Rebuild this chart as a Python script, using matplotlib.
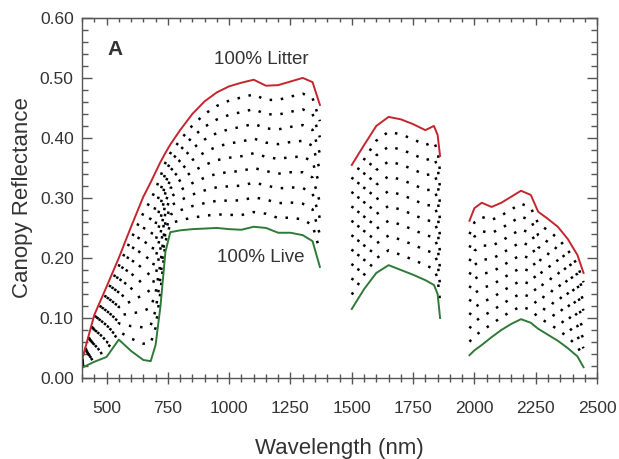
import numpy as np
import matplotlib
matplotlib.use("Agg")
import matplotlib.pyplot as plt
from matplotlib.ticker import MultipleLocator, FormatStrFormatter

plt.rcParams['font.family'] = ['Liberation Sans', 'DejaVu Sans']

# segment 1 (visible / NIR)
wl_1 = [400, 450, 500, 550, 600, 650, 680, 700, 720, 740, 760, 800, 850, 900,
        950, 1000, 1050, 1100, 1150, 1200, 1250, 1300, 1340, 1370]
litter_1 = [0.030, 0.105, 0.152, 0.200, 0.252, 0.302, 0.326, 0.343, 0.360, 0.375,
            0.389, 0.413, 0.440, 0.461, 0.476, 0.486, 0.492, 0.497, 0.487, 0.488,
            0.494, 0.500, 0.493, 0.455]
live_1 = [0.017, 0.027, 0.035, 0.064, 0.045, 0.030, 0.028, 0.055, 0.120, 0.210,
          0.243, 0.246, 0.248, 0.249, 0.250, 0.248, 0.247, 0.252, 0.250, 0.242,
          0.242, 0.238, 0.228, 0.185]

# segment 2 (SWIR 1)
wl_2 = [1500, 1550, 1600, 1650, 1700, 1750, 1800, 1835, 1850, 1860]
litter_2 = [0.355, 0.388, 0.420, 0.435, 0.431, 0.423, 0.413, 0.420, 0.405, 0.370]
live_2 = [0.115, 0.148, 0.175, 0.188, 0.180, 0.172, 0.163, 0.155, 0.140, 0.100]

# segment 3 (SWIR 2)
wl_3 = [1980, 2000, 2030, 2070, 2110, 2150, 2190, 2230, 2260, 2300, 2340, 2380,
        2420, 2445]
litter_3 = [0.262, 0.283, 0.292, 0.285, 0.292, 0.302, 0.312, 0.305, 0.277, 0.265,
            0.252, 0.232, 0.205, 0.175]
live_3 = [0.038, 0.046, 0.055, 0.068, 0.080, 0.090, 0.098, 0.092, 0.082, 0.072,
          0.062, 0.050, 0.036, 0.018]

# litter fractions of the intermediate mixtures
mix_fractions = [0.1, 0.2, 0.3, 0.4, 0.5, 0.6, 0.7, 0.8, 0.9]

red = '#c3262e'
green = '#2f7a38'
txt = '#333333'
axc = '#555555'

fig = plt.figure(figsize=(6.19, 4.59), dpi=100)
ax = fig.add_axes([0.1325, 0.1765, 0.832, 0.7845])

segments = [(wl_1, litter_1, live_1), (wl_2, litter_2, live_2), (wl_3, litter_3, live_3)]
for wl, lit, liv in segments:
    wl = np.array(wl)
    lit = np.array(lit)
    liv = np.array(liv)
    for f in mix_fractions:
        ax.plot(wl, f * lit + (1 - f) * liv, color='black', lw=1.8,
                linestyle=(0, (1, 3.5)), dash_capstyle='butt')
    ax.plot(wl, lit, color=red, lw=1.4)
    ax.plot(wl, liv, color=green, lw=1.4)

ax.set_xlim(400, 2500)
ax.set_ylim(0, 0.60)
ax.xaxis.set_major_locator(MultipleLocator(250))
ax.xaxis.set_minor_locator(MultipleLocator(50))
ax.yaxis.set_major_locator(MultipleLocator(0.1))
ax.yaxis.set_minor_locator(MultipleLocator(0.02))
ax.yaxis.set_major_formatter(FormatStrFormatter('%.2f'))

for s in ax.spines.values():
    s.set_color(axc)
    s.set_linewidth(1.0)

ax.tick_params(axis='x', which='major', direction='inout', length=9, width=1,
               color=axc, pad=12, labelsize=12.5, labelcolor=txt)
ax.tick_params(axis='x', which='minor', direction='inout', length=6, width=1,
               color=axc)
ax.tick_params(axis='y', which='major', direction='in', length=7, width=1,
               color=axc, right=True, pad=6, labelsize=12.5, labelcolor=txt)
ax.tick_params(axis='y', which='minor', direction='in', length=4, width=1,
               color=axc, right=True)

top = ax.secondary_xaxis('top')
top.xaxis.set_major_locator(MultipleLocator(250))
top.xaxis.set_minor_locator(MultipleLocator(50))
top.tick_params(which='major', direction='in', length=5, width=1, color=axc,
                labeltop=False)
top.tick_params(which='minor', direction='in', length=3, width=1, color=axc)
top.spines['top'].set_color(axc)

ax.set_xlabel('Wavelength (nm)', fontsize=16, color=txt, labelpad=16)
ax.set_ylabel('Canopy Reflectance', fontsize=16, color=txt, labelpad=5)

ax.text(505, 0.547, 'A', fontsize=15, fontweight='bold', color=txt,
        va='center', ha='left')
ax.text(1130, 0.530, '100% Litter', fontsize=13.5, color=txt, va='center', ha='center')
ax.text(1130, 0.200, '100% Live', fontsize=13.5, color=txt, va='center', ha='center')

fig.savefig('out.png', dpi=100)
